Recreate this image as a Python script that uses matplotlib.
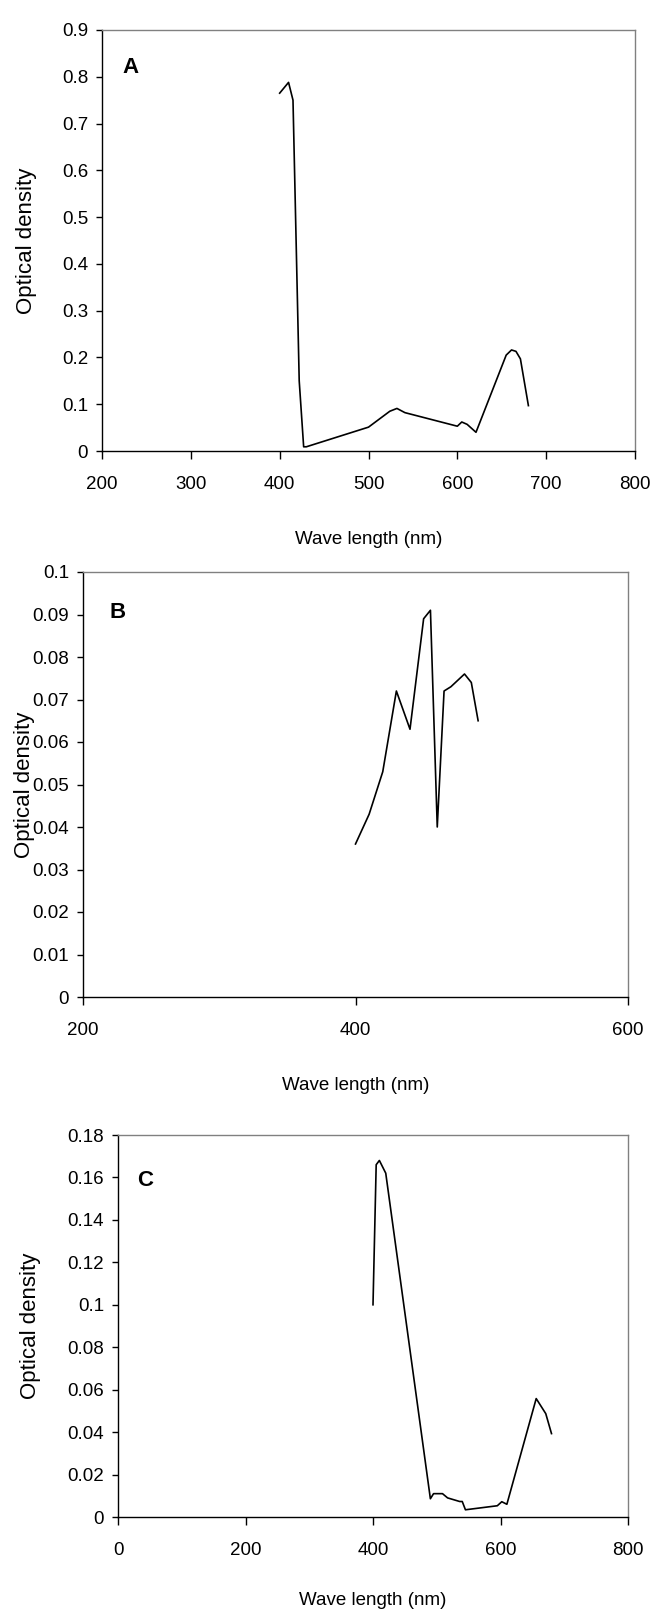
import matplotlib
matplotlib.use('Agg')
import matplotlib.pyplot as plt
import numpy as np
from matplotlib.ticker import FuncFormatter

# panel A
wl_a = [400, 410, 415, 422, 427, 430, 500, 524, 532, 541, 600, 605, 611, 621, 655, 661, 666, 671, 680]
od_a = [0.765, 0.788, 0.75, 0.15, 0.009, 0.009, 0.051, 0.085, 0.091, 0.082, 0.053, 0.062, 0.057,
        0.040, 0.205, 0.216, 0.213, 0.197, 0.097]

# panel B
wl_b = [400, 410, 420, 430, 440, 450, 455, 460, 465, 470, 480, 485, 490]
od_b = [0.036, 0.043, 0.053, 0.072, 0.063, 0.089, 0.091, 0.040, 0.072, 0.073, 0.076, 0.074, 0.065]

# panel C
wl_c = [400, 405, 410, 420, 490, 495, 509, 517, 536, 540, 545, 595, 602, 610, 656, 671, 680]
od_c = [0.100, 0.166, 0.168, 0.162, 0.0086, 0.011, 0.011, 0.009, 0.0073, 0.0073, 0.0034, 0.0053,
        0.0072, 0.006, 0.0558, 0.0487, 0.0393]

xticks_a = [200, 300, 400, 500, 600, 700, 800]
yticks_a = [0, 0.1, 0.2, 0.3, 0.4, 0.5, 0.6, 0.7, 0.8, 0.9]
xticks_b = [200, 400, 600]
yticks_b = [0, 0.01, 0.02, 0.03, 0.04, 0.05, 0.06, 0.07, 0.08, 0.09, 0.1]
xticks_c = [0, 200, 400, 600, 800]
yticks_c = [0, 0.02, 0.04, 0.06, 0.08, 0.1, 0.12, 0.14, 0.16, 0.18]

W, H = 651, 1614
FONT = ['Liberation Sans', 'DejaVu Sans']


def make_panel(fig, box, wl, od, xt, yt, letter, letter_pos, ylab_x, xlab_y):
    left, right, top, bottom = box
    ax = fig.add_axes([left / W, 1 - bottom / H, (right - left) / W, (bottom - top) / H])
    ax.plot(wl, od, color='black', lw=1.2)
    ax.set_xlim(xt[0], xt[-1])
    ax.set_ylim(yt[0], yt[-1])
    ax.set_xticks(xt)
    ax.set_yticks(yt)
    ax.yaxis.set_major_formatter(FuncFormatter(lambda v, p: '%g' % round(v, 4)))
    for lab in ax.get_xticklabels() + ax.get_yticklabels():
        lab.set_family(FONT)
        lab.set_fontsize(13.5)
    ax.tick_params(axis='x', direction='out', length=6, width=1, pad=12, color='black')
    ax.tick_params(axis='y', direction='out', length=4, width=1, pad=6, color='black')
    for s in ['left', 'bottom']:
        ax.spines[s].set_color('black')
        ax.spines[s].set_linewidth(1.0)
    for s in ['top', 'right']:
        ax.spines[s].set_color('#808080')
        ax.spines[s].set_linewidth(1.0)
    ax.set_xlabel('Wave length (nm)', family=FONT, fontsize=13.5)
    ax.set_ylabel('Optical density', family=FONT, fontsize=16)
    ax.xaxis.set_label_coords(0.5, xlab_y)
    ax.yaxis.set_label_coords(ylab_x, 0.5)
    ax.text(letter_pos[0], letter_pos[1], letter, transform=ax.transAxes, family=FONT,
            fontsize=16, fontweight='bold', ha='left', va='center')
    return ax


fig = plt.figure(figsize=(W / 100, H / 100), dpi=100)
make_panel(fig, (102, 635, 30, 451), wl_a, od_a, xticks_a, yticks_a, 'A', (0.038, 0.91), -0.122, -0.19)
make_panel(fig, (83, 628, 572, 997), wl_b, od_b, xticks_b, yticks_b, 'B', (0.048, 0.904), -0.088, -0.188)
make_panel(fig, (118, 628, 1135, 1517), wl_c, od_c, xticks_c, yticks_c, 'C', (0.037, 0.88), -0.151, -0.197)

fig.savefig('out.png', dpi=100)
